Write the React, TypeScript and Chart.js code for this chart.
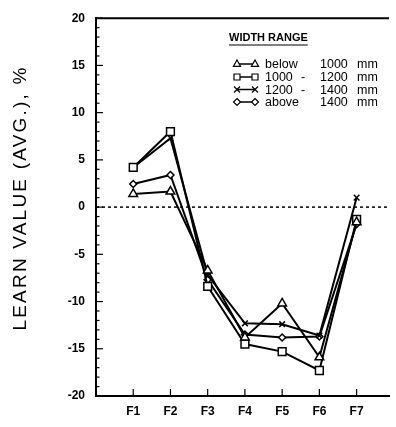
import React, { useEffect, useRef } from "react";
import { Chart, registerables } from "chart.js";

Chart.register(...registerables);

const categories = ["F1", "F2", "F3", "F4", "F5", "F6", "F7"];
const yAxisTitle = "LEARN VALUE (AVG.), %";
const legendTitle = "WIDTH RANGE";
const seriesLabels = ["below 1000 mm", "1000 - 1200 mm", "1200 - 1400 mm", "above 1400 mm"];
const legendCols = [
  ["below", "", "1000", "mm"],
  ["1000", "-", "1200", "mm"],
  ["1200", "-", "1400", "mm"],
  ["above", "", "1400", "mm"],
];
const below1000 = [1.4, 1.65, -6.7, -13.8, -10.2, -15.9, -1.6];
const r1000to1200 = [4.2, 8.0, -8.4, -14.5, -15.3, -17.3, -1.3];
const r1200to1400 = [4.2, 7.3, -7.2, -12.3, -12.4, -13.6, 1.0];
const above1400 = [2.45, 3.4, -7.7, -13.5, -13.8, -13.7, -1.8];
const yTicks = [-20, -15, -10, -5, 0, 5, 10, 15, 20];

const seriesValues = [below1000, r1000to1200, r1200to1400, above1400];
const pointStyles = ["triangle", "rect", "crossRot", "rectRot"];
const pointRadii = [5, 5.5, 4, 3.5];

const FONT = "'Liberation Sans', Arial, sans-serif";

function drawMarker(ctx: CanvasRenderingContext2D, style: string, x: number, y: number, r: number) {
  ctx.beginPath();
  if (style === "triangle") {
    ctx.moveTo(x, y - r);
    ctx.lineTo(x + r * 0.9, y + r * 0.6);
    ctx.lineTo(x - r * 0.9, y + r * 0.6);
    ctx.closePath();
    ctx.fill();
    ctx.stroke();
  } else if (style === "rect") {
    const s = r * 0.75;
    ctx.rect(x - s, y - s, 2 * s, 2 * s);
    ctx.fill();
    ctx.stroke();
  } else if (style === "crossRot") {
    const s = r * 0.75;
    ctx.moveTo(x - s, y - s);
    ctx.lineTo(x + s, y + s);
    ctx.moveTo(x + s, y - s);
    ctx.lineTo(x - s, y + s);
    ctx.stroke();
  } else {
    ctx.moveTo(x, y - r);
    ctx.lineTo(x + r, y);
    ctx.lineTo(x, y + r);
    ctx.lineTo(x - r, y);
    ctx.closePath();
    ctx.fill();
    ctx.stroke();
  }
}

const decorPlugin = {
  id: "decor",
  afterDraw(chart: any) {
    const ctx: CanvasRenderingContext2D = chart.ctx;
    const { left, right, top, bottom } = chart.chartArea;
    const ys = chart.scales.y;
    const xs = chart.scales.x;
    ctx.save();
    ctx.strokeStyle = "#000";
    ctx.lineWidth = 2;
    ctx.beginPath();
    ctx.moveTo(left, top);
    ctx.lineTo(right, top);
    ctx.stroke();
    ctx.lineWidth = 1.2;
    for (let v = -20; v <= 20; v++) {
      const py = ys.getPixelForValue(v);
      const len = v % 5 === 0 ? 7 : 3.5;
      ctx.beginPath();
      ctx.moveTo(left, py);
      ctx.lineTo(left + len, py);
      ctx.stroke();
    }
    for (let i = 1; i <= categories.length; i++) {
      const px = xs.getPixelForValue(i);
      ctx.beginPath();
      ctx.moveTo(px, bottom);
      ctx.lineTo(px, bottom - 7);
      ctx.stroke();
    }
    const y0 = ys.getPixelForValue(0);
    ctx.setLineDash([3, 3]);
    ctx.lineWidth = 1.5;
    ctx.beginPath();
    ctx.moveTo(left, y0);
    ctx.lineTo(right, y0);
    ctx.stroke();
    ctx.setLineDash([]);

    // y axis title
    ctx.save();
    ctx.fillStyle = "#000";
    ctx.translate(21, 198);
    ctx.rotate(-Math.PI / 2);
    ctx.font = `19px ${FONT}`;
    (ctx as any).letterSpacing = "2.2px";
    ctx.textAlign = "center";
    ctx.textBaseline = "middle";
    ctx.fillText(yAxisTitle, 0, 0);
    ctx.restore();

    ctx.fillStyle = "#000";
    ctx.font = `bold 11px ${FONT}`;
    ctx.textBaseline = "middle";
    ctx.textAlign = "left";
    ctx.fillText(legendTitle, 229, 38);
    const tw = ctx.measureText(legendTitle).width;
    ctx.lineWidth = 1;
    ctx.beginPath();
    ctx.moveTo(229, 45);
    ctx.lineTo(229 + tw, 45);
    ctx.stroke();

    const rowY = [64, 77, 89.5, 102];
    const colX = [265, 301, 320, 357];
    ctx.font = `12.5px ${FONT}`;
    for (let i = 0; i < seriesLabels.length; i++) {
      const y = rowY[i];
      ctx.lineWidth = 1.5;
      ctx.beginPath();
      ctx.moveTo(237, y);
      ctx.lineTo(255, y);
      ctx.stroke();
      const r = Math.min(pointRadii[i], 4);
      ctx.fillStyle = "#fff";
      ctx.lineWidth = 1.2;
      drawMarker(ctx, pointStyles[i], 237, y, r);
      drawMarker(ctx, pointStyles[i], 255, y, r);
      ctx.fillStyle = "#000";
      legendCols[i].forEach((t, j) => {
        if (t) ctx.fillText(t, colX[j], y + 1);
      });
    }
    ctx.restore();
  },
};

export default function App() {
  const ref = useRef<HTMLCanvasElement>(null);
  useEffect(() => {
    if (!ref.current) return;
    const chart = new Chart(ref.current, {
      type: "line",
      data: {
        datasets: seriesValues.map((vals, i) => ({
          label: seriesLabels[i],
          data: vals.map((v, j) => ({ x: j + 1, y: v })),
          borderColor: "#000",
          borderWidth: 2,
          pointStyle: pointStyles[i] as any,
          pointRadius: pointRadii[i],
          pointBorderColor: "#000",
          pointBackgroundColor: "#fff",
          pointBorderWidth: 1.5,
          tension: 0,
        })),
      },
      options: {
        animation: false,
        responsive: false,
        events: [],
        layout: { padding: { top: 11, right: 0, left: 0, bottom: 0 } },
        plugins: { legend: { display: false }, tooltip: { enabled: false } },
        scales: {
          x: {
            type: "linear",
            min: 0,
            max: 7.87,
            grid: { display: false, drawTicks: false },
            border: { display: true, color: "#000", width: 2 },
            afterBuildTicks: (s: any) => {
              s.ticks = categories.map((_, i) => ({ value: i + 1 }));
            },
            afterFit: (s: any) => {
              s.height = 31;
            },
            ticks: {
              autoSkip: false,
              maxRotation: 0,
              padding: 8,
              color: "#000",
              font: { family: FONT, size: 12, weight: "bold" },
              callback: (v: any) => categories[Number(v) - 1] ?? "",
            },
          },
          y: {
            min: -20,
            max: 20,
            grid: { display: false, drawTicks: false },
            border: { display: true, color: "#000", width: 2 },
            afterBuildTicks: (s: any) => {
              s.ticks = yTicks.map((v) => ({ value: v }));
            },
            afterFit: (s: any) => {
              s.width = 96;
            },
            ticks: {
              padding: 11,
              color: "#000",
              font: { family: FONT, size: 12, weight: "bold" },
            },
          },
        },
      },
      plugins: [decorPlugin],
    });
    return () => chart.destroy();
  }, []);
  return (
    <div style={{ position: "fixed", left: 0, top: 0, width: 396, height: 427, background: "#fff" }}>
      <canvas ref={ref} width={396} height={427} style={{ width: 396, height: 427 }} />
    </div>
  );
}
